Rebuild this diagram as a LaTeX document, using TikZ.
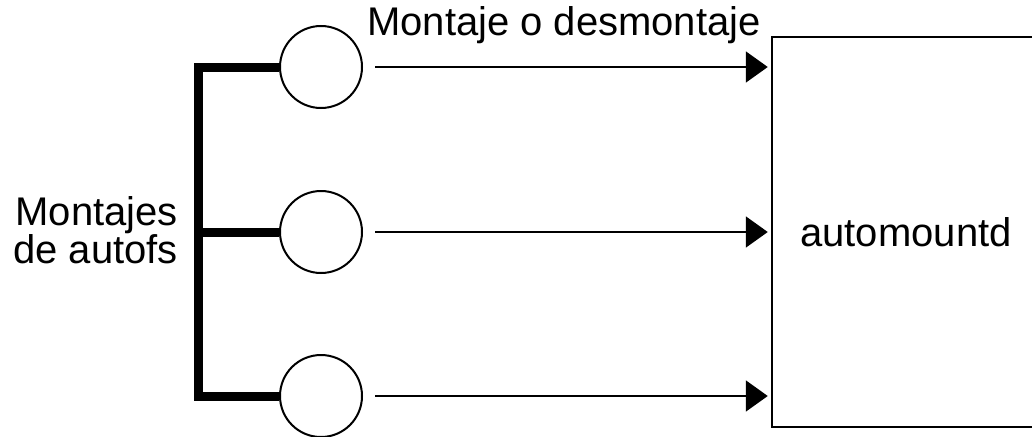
\documentclass[tikz,border=0pt]{standalone}
\usepackage{fontspec}
\setmainfont{Liberation Sans}
\usetikzlibrary{arrows.meta}
\begin{document}
\begin{tikzpicture}[x=1pt,y=-1pt,
  lbl/.style={inner sep=0pt, font=\fontsize{40}{38}\selectfont},
  mountpt/.style={circle, draw, line width=2pt, minimum size=82pt, inner sep=0pt},
  bracket/.style={line width=9pt, line join=miter, line cap=butt},
  arr/.style={line width=2pt, -{Triangle[length=22pt,width=31pt]}, shorten >=3pt},
  daemon/.style={draw, line width=2.5pt, minimum width=268pt, minimum height=390pt, inner sep=0pt}]
\useasboundingbox (0,0) rectangle (1032,436);

% mount points
\node[mountpt] (c1) at (321,67) {};
\node[mountpt] (c2) at (321,232) {};
\node[mountpt] (c3) at (321,396) {};

% daemon box (right side runs past the page edge)
\node[daemon] (box) at (906,232) {};
\node[lbl] (d) at (906,232) {automountd};

% bracket joining the autofs mounts
\coordinate (b1) at (198,67);
\coordinate (b2) at (198,232);
\coordinate (b3) at (198,396);
\draw[bracket] (c1.west) -- (b1) -- (b3) -- (c3.west);
\draw[bracket] (c2.west) -- (b2);

% requests to the daemon
\coordinate (s1) at (375,67);
\coordinate (s2) at (375,232);
\coordinate (s3) at (375,396);
\draw[arr] (s1) -- (box.west |- s1);
\draw[arr] (s2) -- (box.west |- s2);
\draw[arr] (s3) -- (box.west |- s3);

% labels
\node[lbl, anchor=base west] (t) at (367,36) {Montaje o desmontaje};
\node[lbl, align=right, anchor=east] (m) at (178,230) {Montajes\\de autofs};
\end{tikzpicture}
\end{document}
